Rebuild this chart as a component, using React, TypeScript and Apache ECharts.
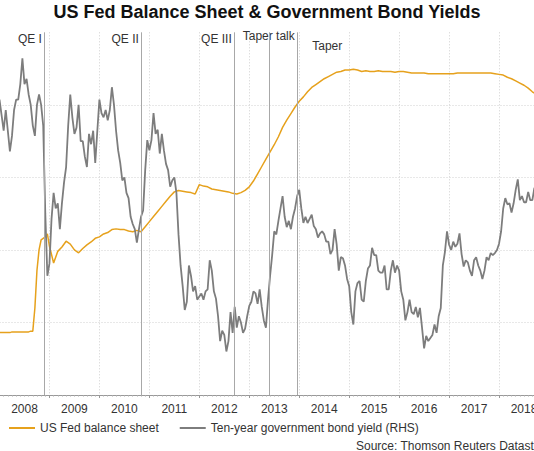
import React, { useEffect, useRef } from "react";
import * as echarts from "echarts";

const FONT = "'Liberation Sans', Arial, Helvetica, sans-serif";

const titleText = "US Fed Balance Sheet & Government Bond Yields";
const sourceText = "Source: Thomson Reuters Datastream";
const seriesNames = ["US Fed balance sheet", "Ten-year government bond yield (RHS)"];
const yearLabels = ["2008", "2009", "2010", "2011", "2012", "2013", "2014", "2015", "2016", "2017", "2018"];

// Ten-year yield (%), twice a month, one array per year
const yield2008 = [3.85, 3.7, 3.55, 3.75, 3.55, 3.35, 3.5, 3.75, 3.85, 3.85, 4.0, 4.25, 4.0, 4.05, 3.9, 3.8, 3.6, 3.5, 3.8, 3.9, 3.8, 3.6, 2.75, 2.15];
const yield2009 = [2.27, 2.7, 2.95, 2.8, 2.85, 2.6, 2.85, 3.05, 3.2, 3.6, 3.9, 3.68, 3.52, 3.58, 3.8, 3.45, 3.45, 3.3, 3.2, 3.52, 3.42, 3.55, 3.24, 3.55];
const yield2010 = [3.85, 3.72, 3.68, 3.75, 3.65, 3.75, 3.97, 3.8, 3.55, 3.36, 3.24, 3.07, 3.1, 2.95, 2.9, 2.72, 2.65, 2.6, 2.47, 2.6, 2.72, 2.78, 3.17, 3.46];
const yield2011 = [3.36, 3.46, 3.72, 3.52, 3.56, 3.33, 3.52, 3.36, 3.23, 3.17, 3.01, 3.07, 3.1, 2.95, 2.55, 2.25, 2.05, 1.82, 1.9, 2.25, 2.15, 2.0, 2.05, 1.92];
const yield2012 = [1.95, 1.98, 1.92, 2.0, 2.02, 2.3, 2.2, 2.0, 1.93, 1.76, 1.52, 1.62, 1.58, 1.42, 1.52, 1.8, 1.6, 1.85, 1.65, 1.76, 1.7, 1.6, 1.64, 1.76];
const yield2013 = [1.86, 1.9, 2.0, 1.98, 1.88, 2.02, 1.85, 1.72, 1.65, 1.92, 2.15, 2.35, 2.58, 2.55, 2.68, 2.8, 2.92, 2.72, 2.62, 2.68, 2.6, 2.72, 2.8, 2.92];
const yield2014 = [2.98, 2.8, 2.66, 2.72, 2.66, 2.7, 2.74, 2.63, 2.6, 2.52, 2.56, 2.58, 2.55, 2.48, 2.48, 2.36, 2.4, 2.6, 2.45, 2.2, 2.33, 2.32, 2.25, 2.12];
const yield2015 = [2.05, 1.8, 1.68, 2.0, 2.08, 2.1, 1.92, 1.9, 2.1, 2.22, 2.25, 2.42, 2.35, 2.35, 2.2, 2.18, 2.18, 2.25, 2.02, 2.02, 2.2, 2.3, 2.18, 2.25];
const yield2016 = [2.2, 2.0, 1.92, 1.72, 1.8, 1.92, 1.8, 1.78, 1.85, 1.75, 1.84, 1.65, 1.45, 1.57, 1.52, 1.55, 1.58, 1.68, 1.6, 1.76, 1.84, 2.25, 2.38, 2.58];
const yield2017 = [2.45, 2.4, 2.48, 2.43, 2.46, 2.56, 2.36, 2.24, 2.3, 2.28, 2.2, 2.15, 2.3, 2.33, 2.25, 2.2, 2.12, 2.2, 2.33, 2.3, 2.37, 2.35, 2.37, 2.4];
const yield2018 = [2.46, 2.58, 2.8, 2.9, 2.84, 2.85, 2.76, 2.85, 2.98, 3.08, 2.88, 2.92, 2.86, 2.86, 2.96, 2.88, 2.88, 3.0];

// Fed balance sheet (US$ trillion): 2008 twice a month, later years monthly
const balance2008 = [0.86, 0.86, 0.86, 0.86, 0.86, 0.86, 0.87, 0.87, 0.87, 0.87, 0.87, 0.87, 0.87, 0.87, 0.87, 0.88, 0.88, 1.2, 1.72, 2.0, 2.14, 2.16, 2.18, 2.22];
const balance2009 = [2.05, 1.82, 1.98, 2.04, 2.12, 2.08, 2.0, 1.96, 2.02, 2.07, 2.11, 2.16];
const balance2010 = [2.18, 2.22, 2.24, 2.28, 2.29, 2.28, 2.28, 2.26, 2.25, 2.27, 2.25, 2.32];
const balance2011 = [2.39, 2.46, 2.53, 2.6, 2.67, 2.74, 2.8, 2.82, 2.81, 2.8, 2.79, 2.77];
const balance2012 = [2.9, 2.88, 2.87, 2.84, 2.83, 2.82, 2.81, 2.8, 2.78, 2.77, 2.79, 2.82];
const balance2013 = [2.87, 2.95, 3.05, 3.15, 3.25, 3.35, 3.45, 3.56, 3.69, 3.79, 3.88, 3.97];
const balance2014 = [4.05, 4.11, 4.18, 4.24, 4.28, 4.32, 4.36, 4.39, 4.42, 4.45, 4.46, 4.48];
const balance2015 = [4.48, 4.49, 4.48, 4.46, 4.47, 4.46, 4.46, 4.47, 4.46, 4.46, 4.46, 4.45];
const balance2016 = [4.46, 4.46, 4.45, 4.44, 4.44, 4.44, 4.44, 4.43, 4.43, 4.43, 4.43, 4.43];
const balance2017 = [4.43, 4.43, 4.44, 4.44, 4.44, 4.44, 4.44, 4.44, 4.44, 4.44, 4.44, 4.43];
const balance2018 = [4.42, 4.41, 4.38, 4.36, 4.33, 4.3, 4.27, 4.23, 4.18, 4.14];

// Policy events (decimal year)
const eventNames = ["QE I", "QE II", "QE III", "Taper talk", "Taper"];
const eventDates = [2008.9, 2010.84, 2012.7, 2013.39, 2013.96];

const yieldYears = [yield2008, yield2009, yield2010, yield2011, yield2012, yield2013, yield2014, yield2015, yield2016, yield2017, yield2018];
const balanceYears = [balance2008, balance2009, balance2010, balance2011, balance2012, balance2013, balance2014, balance2015, balance2016, balance2017, balance2018];

function toPoints(arrays: number[][], perYear: number[]): [number, number][] {
  const out: [number, number][] = [];
  arrays.forEach((arr, y) => {
    const n = perYear[y];
    arr.forEach((v, k) => out.push([2008 + y + k / n, v]));
  });
  return out;
}

const ORANGE = "#E6A11C";
const GRAY = "#7d7d7d";
const TEXT = "#333333";
const GRID = "#d0d0d0";

export default function App() {
  const ref = useRef<HTMLDivElement>(null);
  useEffect(() => {
    if (!ref.current) return;
    const chart = echarts.init(ref.current, null, { renderer: "svg" });
    const yieldPts = toPoints(yieldYears, yieldYears.map(() => 24));
    const balPts = toPoints(balanceYears, balanceYears.map((_, i) => (i === 0 ? 24 : 12)));
    chart.setOption({
      animation: false,
      grid: {
        left: -0.5,
        right: -15,
        top: 32.3,
        bottom: 56,
        containLabel: false,
        outerBoundsMode: "none",
      },
      xAxis: [
        {
          type: "value",
          min: 2008,
          max: 2019,
          interval: 1,
          axisLabel: { show: false },
          axisLine: { show: true, lineStyle: { color: "#999", width: 1 } },
          axisTick: { show: true, length: 3, lineStyle: { color: "#999" } },
          minorTick: { show: true, splitNumber: 12, length: 1.5, lineStyle: { color: "#aaa" } },
          splitLine: { show: true, lineStyle: { type: [1, 2], color: GRID, width: 1 } },
        },
        {
          type: "category",
          data: yearLabels,
          boundaryGap: true,
          position: "bottom",
          axisLine: { show: false },
          axisTick: { show: false },
          splitLine: { show: false },
          axisLabel: { fontSize: 12, color: TEXT, fontFamily: FONT, margin: 8 },
        },
      ],
      yAxis: [
        {
          type: "value",
          min: 0,
          max: 5,
          interval: 1,
          axisLabel: { show: false },
          axisLine: { show: false },
          axisTick: { show: false },
          splitLine: {
            show: true,
            showMinLine: false,
            showMaxLine: false,
            lineStyle: { type: [1, 2], color: GRID, width: 1 },
          },
        },
        { type: "value", min: 1, max: 4.5, interval: 0.5, show: false, splitLine: { show: false } },
      ],
      legend: {
        left: 4,
        top: 417,
        itemWidth: 26,
        itemHeight: 2,
        itemGap: 21,
        icon: "rect",
        textStyle: { fontSize: 12, color: TEXT, fontFamily: FONT },
        data: seriesNames,
      },
      series: [
        {
          name: seriesNames[0],
          type: "line",
          xAxisIndex: 0,
          yAxisIndex: 0,
          data: balPts,
          showSymbol: false,
          symbol: "none",
          itemStyle: { color: ORANGE },
          lineStyle: { color: ORANGE, width: 1.5 },
          z: 2,
        },
        {
          name: seriesNames[1],
          type: "line",
          xAxisIndex: 0,
          yAxisIndex: 1,
          data: yieldPts,
          showSymbol: false,
          symbol: "none",
          itemStyle: { color: GRAY },
          lineStyle: { color: GRAY, width: 1.8 },
          z: 3,
          markLine: {
            silent: true,
            symbol: ["none", "none"],
            label: { show: false },
            lineStyle: { color: "#a8a8a8", type: "solid", width: 1 },
            data: eventDates.map((d) => ({ xAxis: d })),
          },
        },
      ],
    });

    const labelPlacement = [
      { align: "right", dx: -2.5, y: 38.5 },
      { align: "right", dx: -2.5, y: 38.5 },
      { align: "right", dx: -2.5, y: 38.5 },
      { align: "center", dx: 0, y: 35.5 },
      { align: "left", dx: 15, y: 45.5 },
    ];
    const eventTexts = eventNames.map((name, i) => {
      const px = chart.convertToPixel({ xAxisIndex: 0 }, eventDates[i]) as number;
      const p = labelPlacement[i];
      return {
        type: "text",
        x: px + p.dx,
        y: p.y,
        silent: true,
        style: {
          text: name,
          fontSize: 12,
          fontFamily: FONT,
          fill: TEXT,
          align: p.align,
          verticalAlign: "middle",
        },
      };
    });
    chart.setOption({
      graphic: [
        {
          type: "text",
          x: 267,
          y: 11.5,
          silent: true,
          style: {
            text: titleText,
            fontSize: 18,
            fontWeight: "bold",
            fontFamily: FONT,
            fill: "#111",
            align: "center",
            verticalAlign: "middle",
          },
        },
        {
          type: "text",
          x: 356,
          y: 445.5,
          silent: true,
          style: {
            text: sourceText,
            fontSize: 12,
            fontFamily: FONT,
            fill: TEXT,
            align: "left",
            verticalAlign: "middle",
          },
        },
        ...eventTexts,
      ],
    });
    return () => chart.dispose();
  }, []);
  return (
    <div
      ref={ref}
      style={{ position: "fixed", left: 0, top: 0, width: 534, height: 451, background: "#fff" }}
    />
  );
}
